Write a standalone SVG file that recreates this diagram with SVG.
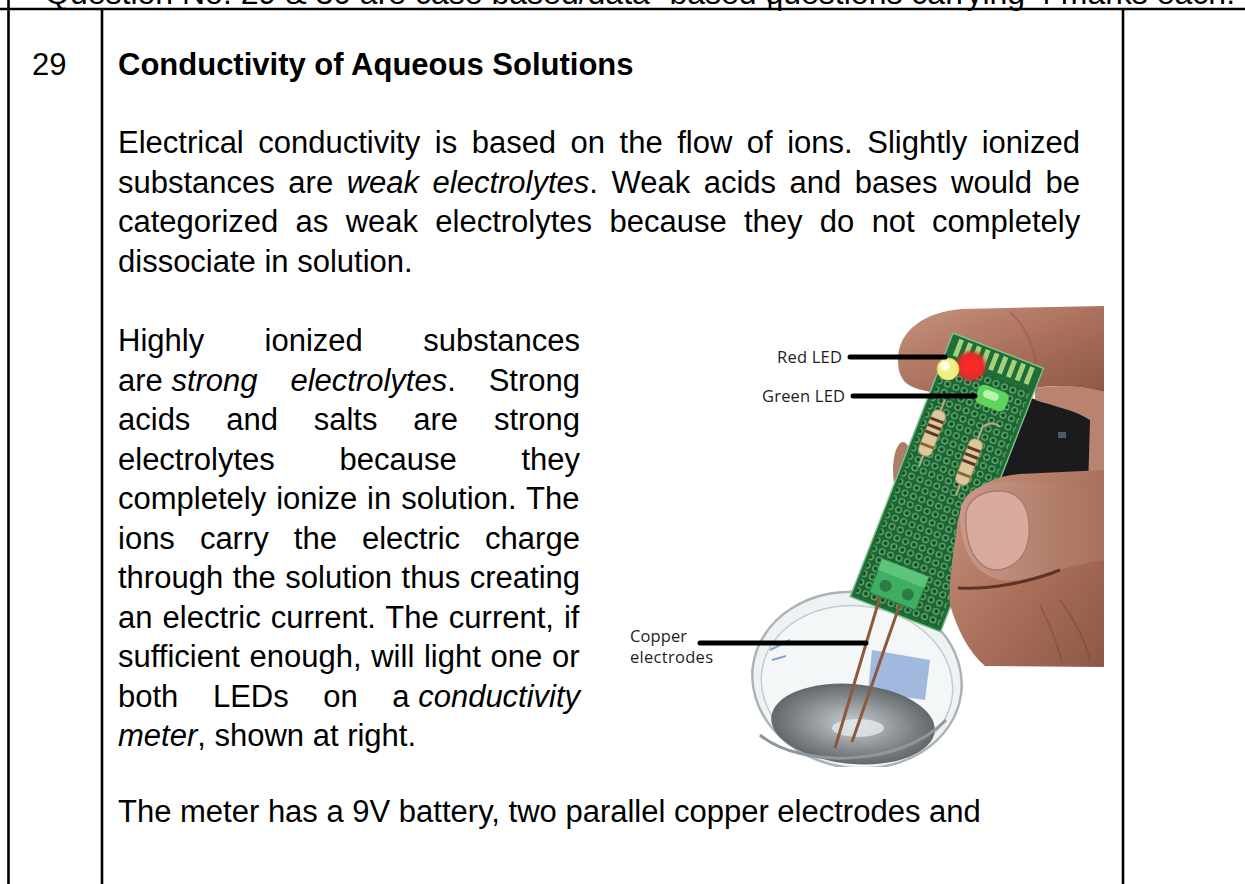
<svg xmlns="http://www.w3.org/2000/svg" width="1245" height="884" viewBox="0 0 1245 884">
<style>
.t{font-family:"Liberation Sans",Arial,sans-serif;font-size:31px;fill:#000}
.b{font-weight:bold}
.i{font-style:italic}
.lbl{font-family:"Open Sans","Noto Sans",sans-serif;font-size:16.5px;fill:#1e1e1e}
.rule{stroke:#000;stroke-width:2.6;fill:none}
.lead{stroke:#000;stroke-width:5;stroke-linecap:round;fill:none}
</style>
<defs>
<linearGradient id="skin" x1="0" y1="0" x2="1" y2="1">
<stop offset="0" stop-color="#c8937e"/><stop offset="0.55" stop-color="#a96f5a"/><stop offset="1" stop-color="#8c5845"/>
</linearGradient>
<linearGradient id="skin2" x1="0" y1="0" x2="1" y2="0">
<stop offset="0" stop-color="#c9998a"/><stop offset="1" stop-color="#a6705c"/>
</linearGradient>
<radialGradient id="water" cx="0.5" cy="0.5" r="0.6">
<stop offset="0" stop-color="#c9cfd2"/><stop offset="0.6" stop-color="#7d8387"/><stop offset="1" stop-color="#4f5457"/>
</radialGradient>
<radialGradient id="redglow" cx="0.5" cy="0.5" r="0.5">
<stop offset="0" stop-color="#ff2a2a"/><stop offset="0.7" stop-color="#e82a2a"/><stop offset="1" stop-color="#e82a2a" stop-opacity="0"/>
</radialGradient>
<pattern id="holes" width="9" height="9" patternUnits="userSpaceOnUse">
<rect width="9" height="9" fill="#1c6533"/>
<circle cx="4.5" cy="4.5" r="2.8" fill="#164a26" stroke="#72c283" stroke-width="1.1"/>
</pattern>
<clipPath id="photoClip"><rect x="620" y="300" width="484" height="467"/></clipPath>
</defs>
<rect width="1245" height="884" fill="#fff"/>

<g id="table">
<line class="rule" x1="0" y1="9" x2="1245" y2="9"/>
<line class="rule" x1="770" y1="0" x2="770" y2="9"/>
<line class="rule" x1="8.5" y1="0" x2="8.5" y2="884"/>
<line class="rule" x1="102" y1="9" x2="102" y2="884"/>
<line class="rule" x1="1123" y1="9" x2="1123" y2="884"/>
</g>

<g id="header">
<text class="t" x="45" y="4" style="font-size:32px">Question No. 29 &amp; 30 are case based/data -based questions carrying 4 marks each.</text>
</g>

<g id="question-number"><text class="t" x="32" y="75">29</text></g>

<g id="title"><text class="t b" x="118" y="75">Conductivity of Aqueous Solutions</text></g>

<g id="para1">
<text class="t" x="118" y="153" style="word-spacing:5.9px">Electrical conductivity is based on the flow of ions. Slightly ionized</text>
<text class="t" x="118" y="192.5" style="word-spacing:4.9px">substances are <tspan class="i">weak electrolytes</tspan>. Weak acids and bases would be</text>
<text class="t" x="118" y="232" style="word-spacing:8.7px">categorized as weak electrolytes because they do not completely</text>
<text class="t" x="118" y="271.5">dissociate in solution.</text>
</g>

<g id="para2">
<text class="t" x="118" y="351" style="word-spacing:51.8px">Highly ionized substances</text>
<text class="t" x="118" y="390.5">are <tspan class="i">strong</tspan></text>
<text class="t" x="290.4" y="390.5"><tspan class="i">electrolytes</tspan>.</text>
<text class="t" x="488.7" y="390.5">Strong</text>
<text class="t" x="118" y="430" style="word-spacing:27.2px">acids and salts are strong</text>
<text class="t" x="118" y="469.5" style="word-spacing:56.1px">electrolytes because they</text>
<text class="t" x="118" y="509" style="word-spacing:1.35px">completely ionize in solution. The</text>
<text class="t" x="118" y="548.5" style="word-spacing:16.4px">ions carry the electric charge</text>
<text class="t" x="118" y="588" style="word-spacing:0.9px">through the solution thus creating</text>
<text class="t" x="118" y="627.5" style="word-spacing:1.44px">an electric current. The current, if</text>
<text class="t" x="118" y="667" style="word-spacing:1.08px">sufficient enough, will light one or</text>
<text class="t" x="118" y="706.5">both</text>
<text class="t" x="212.9" y="706.5">LEDs</text>
<text class="t" x="323.2" y="706.5">on</text>
<text class="t" x="392.3" y="706.5">a <tspan class="i">conductivity</tspan></text>
<text class="t" x="118" y="746"><tspan class="i">meter</tspan>, shown at right.</text>
</g>

<g id="para3">
<text class="t" x="118" y="822">The meter has a 9V battery, two parallel copper electrodes and</text>
</g>

<g id="photo" clip-path="url(#photoClip)">
<g id="beaker">
<ellipse cx="857" cy="680" rx="105" ry="88" transform="rotate(8 857 680)" fill="#eef2f3" stroke="#aab3b7" stroke-width="2.5"/>
<ellipse cx="857" cy="684" rx="96" ry="78" transform="rotate(8 857 684)" fill="#f4f7f8" stroke="#c4cbce" stroke-width="1.5"/>
<path d="M 872 650 L 930 660 L 925 700 L 868 692 Z" fill="#5c86c9" opacity="0.55"/>
<path d="M 770 650 L 790 640 M 772 660 L 786 656" stroke="#5a7fc0" stroke-width="2" opacity="0.7"/>
<ellipse cx="853" cy="724" rx="82" ry="40" transform="rotate(5 853 724)" fill="url(#water)"/>
<ellipse cx="858" cy="728" rx="26" ry="9" fill="#e4e8ea" opacity="0.8"/>
<path d="M 760 735 C 800 768, 900 768, 946 720" stroke="#8e989c" stroke-width="3" fill="none"/>
</g>

<g id="hand-back">
<path d="M 898 360 C 898 330 925 312 962 309 L 1104 306 L 1104 392 C 1080 386 1055 384 1035 388 L 990 392 C 955 396 918 394 905 382 C 900 376 898 370 898 360 Z" fill="url(#skin)"/>
<path d="M 1010 312 C 1030 330 1040 360 1035 388" stroke="#8a5646" stroke-width="2" fill="none" opacity="0.4"/>
<path d="M 1030 398 L 1090 412 L 1092 478 C 1080 500 1055 530 1030 548 L 990 562 L 1000 470 Z" fill="#1b1b1e"/>
<path d="M 1035 388 C 1060 384 1085 386 1104 392 L 1104 492 L 1088 490 L 1090 420 C 1075 410 1050 405 1035 400 Z" fill="#b98371"/>
<rect x="1058" y="432" width="8" height="6" fill="#4a5870"/>
<ellipse cx="903" cy="470" rx="10" ry="28" fill="#b07b68"/>
</g>

<g id="board" transform="translate(953 333) rotate(21.3)">
<rect x="0" y="0" width="97" height="283" fill="#1f6e37" stroke="#7fc48e" stroke-width="1.4"/>
<rect x="4" y="26" width="89" height="254" fill="url(#holes)"/>
<g fill="#a6d27e">
<rect x="8" y="3" width="5" height="18"/><rect x="17.5" y="3" width="5" height="18"/><rect x="27" y="3" width="5" height="18"/>
<rect x="36.5" y="3" width="5" height="18"/><rect x="46" y="3" width="5" height="18"/><rect x="55.5" y="3" width="5" height="18"/>
<rect x="65" y="3" width="5" height="18"/><rect x="74.5" y="3" width="5" height="18"/><rect x="84" y="3" width="5" height="18"/>
</g>
<rect x="16" y="236" width="50" height="36" rx="2" fill="#3fae62" stroke="#2a7d45" stroke-width="1.2"/>
<rect x="16" y="236" width="50" height="12" fill="#5cc47b"/>
<circle cx="29" cy="260" r="6" fill="#2d7c47"/><circle cx="53" cy="260" r="6" fill="#2d7c47"/>
</g>

<g id="components">
<g transform="translate(932 433) rotate(111.3)">
<line x1="-36" y1="0" x2="36" y2="0" stroke="#b8ab8a" stroke-width="2"/>
<rect x="-24" y="-7" width="48" height="14" rx="6" fill="#dcc7a0" stroke="#a8916a" stroke-width="1"/>
<rect x="-15" y="-7" width="3" height="14" fill="#5a3a22"/><rect x="-8" y="-7" width="3" height="14" fill="#5a3a22"/>
<rect x="-1" y="-7" width="3" height="14" fill="#5a3a22"/><rect x="12" y="-7" width="3" height="14" fill="#8a6a32"/>
</g>
<g transform="translate(969 462) rotate(111.3)">
<path d="M -38 0 L 36 0 M -38 0 C -44 -4 -46 -10 -44 -16" stroke="#b8ab8a" stroke-width="2" fill="none"/>
<rect x="-24" y="-7" width="48" height="14" rx="6" fill="#dcc7a0" stroke="#a8916a" stroke-width="1"/>
<rect x="-15" y="-7" width="3" height="14" fill="#5a3a22"/><rect x="-8" y="-7" width="3" height="14" fill="#5a3a22"/>
<rect x="-1" y="-7" width="3" height="14" fill="#5a3a22"/><rect x="12" y="-7" width="3" height="14" fill="#8a6a32"/>
</g>
<circle cx="971" cy="366" r="17" fill="url(#redglow)"/>
<circle cx="948" cy="369" r="11" fill="#f2ee86" stroke="#e2c244" stroke-width="0.8"/>
<circle cx="945" cy="366" r="5" fill="#fffde2"/>
<g transform="translate(992 398) rotate(21)">
<rect x="-16" y="-10" width="32" height="20" rx="6" fill="#5fd35b"/>
<rect x="-10" y="-6" width="16" height="8" rx="4" fill="#b9f5a8"/>
</g>
<path d="M 880 597 L 835 748" stroke="#8b5a3c" stroke-width="3"/>
<path d="M 900 604 L 852 742" stroke="#8b5a3c" stroke-width="3"/>
</g>

<g id="hand-front">
<path d="M 1104 470 L 1104 667 L 985 666 C 968 652 957 628 950 605 C 948 590 952 560 958 520 C 965 490 990 476 1020 474 Z" fill="url(#skin)"/>
<path d="M 960 520 C 958 495 978 482 1005 482 C 1035 482 1060 488 1104 486 L 1104 560 C 1070 565 1045 575 1020 580 C 990 584 964 570 960 520 Z" fill="url(#skin2)"/>
<path d="M 966 514 C 968 497 985 490 1002 491 C 1022 493 1031 510 1029 535 C 1027 558 1012 570 995 570 C 976 568 964 545 966 514 Z" fill="#d9ab9e" stroke="#ad7b6b" stroke-width="1.5"/>
<path d="M 958 588 C 990 590 1030 582 1060 570" stroke="#5c3428" stroke-width="3" fill="none"/>
<path d="M 1060 600 C 1075 620 1085 640 1090 660 M 1040 605 C 1050 625 1058 645 1062 662" stroke="#7a4a3a" stroke-width="1.5" fill="none" opacity="0.6"/>
</g>
</g>

<g id="connectors">
<line class="lead" x1="850" y1="357" x2="945" y2="357"/>
<line class="lead" x1="853" y1="396" x2="975" y2="396"/>
<line class="lead" x1="700" y1="643" x2="866" y2="643"/>
</g>

<g id="labels">
<text class="lbl" x="777" y="363" textLength="65">Red LED</text>
<text class="lbl" x="762" y="402" textLength="83">Green LED</text>
<text class="lbl" x="630" y="642" textLength="57">Copper</text>
<text class="lbl" x="630" y="663" textLength="83">electrodes</text>
</g>
</svg>
